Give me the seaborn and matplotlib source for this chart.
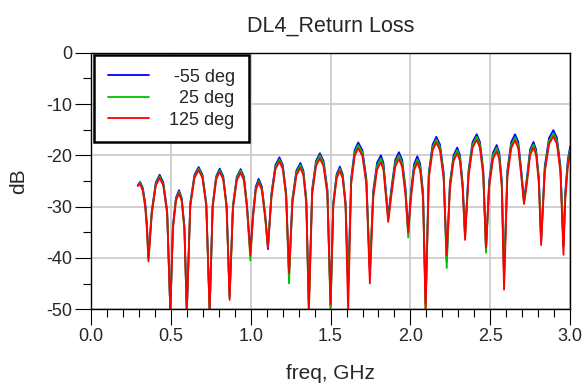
import pandas as pd
import matplotlib
matplotlib.use("Agg")
import matplotlib.pyplot as plt
from matplotlib.ticker import MultipleLocator
import seaborn as sns

# frequency points (GHz), shared by the three temperature traces
freq_ghz = [
    0.293, 0.308, 0.325, 0.340, 0.350,
    0.360, 0.381, 0.406, 0.430, 0.453, 0.477,
    0.497, 0.513, 0.532, 0.551, 0.568, 0.585,
    0.600, 0.622, 0.648, 0.674, 0.698, 0.722,
    0.743, 0.762, 0.784, 0.806, 0.828, 0.849,
    0.868, 0.889, 0.913, 0.937, 0.958, 0.977,
    0.998, 1.014, 1.032, 1.050, 1.070, 1.091,
    1.108, 1.130, 1.155, 1.180, 1.201, 1.222,
    1.240, 1.261, 1.286, 1.311, 1.330, 1.348,
    1.364, 1.385, 1.409, 1.433, 1.456, 1.480,
    1.500, 1.517, 1.538, 1.558, 1.576, 1.594,
    1.610, 1.629, 1.651, 1.673, 1.699, 1.724,
    1.746, 1.767, 1.791, 1.815, 1.831, 1.847,
    1.861, 1.881, 1.905, 1.928, 1.948, 1.969,
    1.986, 2.003, 2.023, 2.043, 2.061, 2.079,
    2.095, 2.115, 2.139, 2.162, 2.185, 2.208,
    2.227, 2.247, 2.270, 2.293, 2.310, 2.327,
    2.342, 2.364, 2.389, 2.415, 2.435, 2.456,
    2.473, 2.493, 2.517, 2.540, 2.556, 2.572,
    2.586, 2.607, 2.631, 2.655, 2.675, 2.694,
    2.711, 2.729, 2.749, 2.770, 2.787, 2.804,
    2.818, 2.841, 2.868, 2.895, 2.917, 2.939,
    2.958, 2.969, 2.985, 3.000,
]

rl_m55 = [
    -25.8, -25.2, -26.4, -29.4, -33.3,
    -39.8, -30.8, -25.3, -23.8, -25.3, -30.8,
    -50.5, -33.8, -28.3, -26.8, -28.3, -33.8,
    -50.5, -29.3, -23.8, -22.3, -23.8, -29.3,
    -50.5, -29.6, -24.1, -22.6, -24.1, -29.6,
    -47.3, -29.7, -24.2, -22.7, -24.2, -29.7,
    -39.0, -31.6, -26.1, -24.6, -26.1, -31.6,
    -38.3, -27.4, -21.9, -20.4, -21.9, -27.4,
    -43.3, -28.5, -23.0, -21.5, -23.0, -28.5,
    -49.0, -26.6, -21.1, -19.6, -21.1, -26.6,
    -49.5, -29.2, -23.7, -22.2, -23.7, -29.2,
    -45.5, -24.5, -19.0, -17.5, -19.0, -24.5,
    -43.0, -27.0, -21.5, -20.0, -21.5, -27.0,
    -32.0, -26.4, -20.9, -19.4, -20.9, -26.4,
    -35.0, -27.2, -21.7, -20.2, -21.7, -27.2,
    -49.0, -23.4, -17.9, -16.4, -17.9, -23.4,
    -40.7, -25.5, -20.0, -18.5, -20.0, -25.5,
    -35.5, -22.9, -17.4, -15.9, -17.4, -22.9,
    -38.5, -25.0, -19.5, -18.0, -19.5, -25.0,
    -44.0, -22.9, -17.4, -15.9, -17.4, -22.9,
    -28.8, -24.4, -18.9, -17.4, -18.9, -24.4,
    -36.8, -22.1, -16.6, -15.1, -16.6, -22.1,
    -37.8, -27.4, -20.9, -18.3,
]

rl_25 = [
    -25.9, -25.4, -26.7, -29.8, -33.8,
    -40.2, -31.1, -25.6, -24.1, -25.6, -31.1,
    -50.5, -34.1, -28.6, -27.1, -28.6, -34.1,
    -50.5, -29.6, -24.1, -22.6, -24.1, -29.6,
    -50.5, -29.9, -24.4, -22.9, -24.4, -29.9,
    -47.8, -30.0, -24.5, -23.0, -24.5, -30.0,
    -40.5, -32.0, -26.5, -25.0, -26.5, -32.0,
    -37.8, -27.8, -22.3, -20.8, -22.3, -27.8,
    -45.0, -28.9, -23.4, -21.9, -23.4, -28.9,
    -50.5, -27.0, -21.5, -20.0, -21.5, -27.0,
    -50.5, -29.6, -24.1, -22.6, -24.1, -29.6,
    -46.0, -25.0, -19.5, -18.0, -19.5, -25.0,
    -42.0, -27.6, -22.1, -20.6, -22.1, -27.6,
    -32.5, -27.0, -21.5, -20.0, -21.5, -27.0,
    -36.0, -27.8, -22.3, -20.8, -22.3, -27.8,
    -50.0, -23.9, -18.4, -16.9, -18.4, -23.9,
    -42.0, -26.0, -20.5, -19.0, -20.5, -26.0,
    -36.0, -23.4, -17.9, -16.4, -17.9, -23.4,
    -39.0, -25.5, -20.0, -18.5, -20.0, -25.5,
    -43.5, -23.5, -18.0, -16.5, -18.0, -23.5,
    -29.2, -24.9, -19.4, -17.9, -19.4, -24.9,
    -36.5, -22.7, -17.2, -15.7, -17.2, -22.7,
    -37.5, -28.0, -21.5, -18.9,
]

rl_125 = [
    -26.0, -25.6, -27.0, -30.2, -34.3,
    -40.7, -31.4, -25.9, -24.4, -25.9, -31.4,
    -50.5, -34.4, -28.9, -27.4, -28.9, -34.4,
    -50.5, -29.9, -24.4, -22.9, -24.4, -29.9,
    -50.5, -30.2, -24.7, -23.2, -24.7, -30.2,
    -48.2, -30.4, -24.9, -23.4, -24.9, -30.4,
    -39.5, -32.3, -26.8, -25.3, -26.8, -32.3,
    -38.0, -28.2, -22.7, -21.2, -22.7, -28.2,
    -43.0, -29.4, -23.9, -22.4, -23.9, -29.4,
    -50.5, -27.6, -22.1, -20.6, -22.1, -27.6,
    -49.0, -30.0, -24.5, -23.0, -24.5, -30.0,
    -50.5, -25.6, -20.1, -18.6, -20.1, -25.6,
    -45.0, -28.3, -22.8, -21.3, -22.8, -28.3,
    -33.0, -27.7, -22.2, -20.7, -22.2, -27.7,
    -35.0, -28.4, -22.9, -21.4, -22.9, -28.4,
    -50.5, -24.5, -19.0, -17.5, -19.0, -24.5,
    -39.5, -26.6, -21.1, -19.6, -21.1, -26.6,
    -36.5, -24.0, -18.5, -17.0, -18.5, -24.0,
    -38.0, -26.2, -20.7, -19.2, -20.7, -26.2,
    -46.2, -24.1, -18.6, -17.1, -18.6, -24.1,
    -29.5, -25.5, -20.0, -18.5, -20.0, -25.5,
    -37.5, -23.3, -17.8, -16.3, -17.8, -23.3,
    -39.4, -28.8, -22.3, -19.5,
]

series_names = ["-55 deg", "25 deg", "125 deg"]
legend_labels = [" -55 deg", "  25 deg", "125 deg"]
colors = ["#0000ff", "#00c000", "#ff0000"]

df = pd.concat([
    pd.DataFrame({"freq": freq_ghz, "dB": vals, "temp": name})
    for name, vals in zip(series_names, [rl_m55, rl_25, rl_125])
])

sns.set_style("white")
plt.rcParams["font.family"] = ["Liberation Sans", "DejaVu Sans"]

fig = plt.figure(figsize=(5.83, 3.85), dpi=100)
ax = fig.add_axes([0.156, 0.197, 0.822, 0.666])

sns.lineplot(data=df, x="freq", y="dB", hue="temp", hue_order=series_names,
             palette=colors, sort=False, estimator=None, linewidth=1.3,
             legend=False, ax=ax)

ax.set_xlim(0, 3.0)
ax.set_ylim(-50, 0)
ax.xaxis.set_major_locator(MultipleLocator(0.5))
ax.xaxis.set_minor_locator(MultipleLocator(0.1))
ax.yaxis.set_major_locator(MultipleLocator(10))
ax.yaxis.set_minor_locator(MultipleLocator(5))
ax.xaxis.set_major_formatter(matplotlib.ticker.FormatStrFormatter("%.1f"))
ax.yaxis.set_major_formatter(matplotlib.ticker.FormatStrFormatter("%d"))

ax.grid(True, which="major", color="#c8c8c8", linewidth=1.2)
ax.set_axisbelow(True)
for s in ax.spines.values():
    s.set_color("black")
    s.set_linewidth(1.0)

ax.tick_params(which="major", direction="out", length=11.5, width=0.8,
               color="black", labelsize=13, pad=2)
ax.tick_params(which="minor", direction="out", length=5.5, width=0.8,
               color="black")
ax.tick_params(axis="both", which="both", bottom=True, left=True)

ax.set_title("DL4_Return Loss", fontsize=15.5, pad=15)
ax.set_xlabel("freq, GHz", fontsize=15, labelpad=14)
ax.set_ylabel("dB", fontsize=15, labelpad=13)

leg = ax.legend(ax.get_lines()[:3], legend_labels, loc="upper left",
                bbox_to_anchor=(0.007, 0.991), borderaxespad=0,
                fontsize=13, frameon=True, fancybox=False, framealpha=1,
                edgecolor="black", handlelength=2.3, handletextpad=1.1,
                labelspacing=0.25, borderpad=0.75)
leg.get_frame().set_linewidth(1.8)

fig.savefig("out.png", dpi=100)
